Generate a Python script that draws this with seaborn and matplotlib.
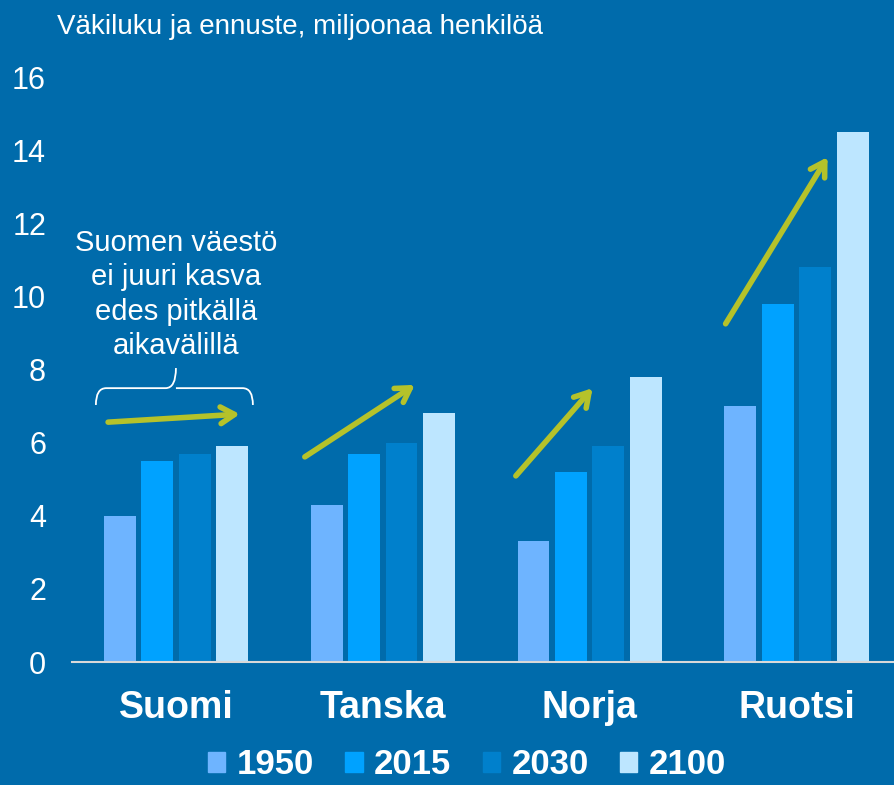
import matplotlib.pyplot as plt
import matplotlib.patches as mpatches
from matplotlib.path import Path
import pandas as pd
import seaborn as sns

# Data (millions of people)
countries = ["Suomi", "Tanska", "Norja", "Ruotsi"]
years = ["1950", "2015", "2030", "2100"]
pop_1950 = [4.0, 4.3, 3.3, 7.0]
pop_2015 = [5.5, 5.7, 5.2, 9.8]
pop_2030 = [5.7, 6.0, 5.9, 10.8]
pop_2100 = [5.9, 6.8, 7.8, 14.5]
yticks = [0, 2, 4, 6, 8, 10, 12, 14, 16]

bg = "#006BAB"
colors = ["#6EB4FF", "#00A2FF", "#0080CC", "#BDE6FF"]
arrow_col = "#B5C22A"

df = pd.DataFrame({"maa": countries, "1950": pop_1950, "2015": pop_2015,
                   "2030": pop_2030, "2100": pop_2100})
df = df.melt(id_vars="maa", var_name="vuosi", value_name="vakiluku")

sns.set_style("white")
plt.rcParams["font.family"] = ["Liberation Sans", "DejaVu Sans"]

fig = plt.figure(figsize=(8.94, 7.85), dpi=100, facecolor=bg)
ax = fig.add_axes([72.5 / 894, 123 / 785, 827.5 / 894, 585 / 785])
ax.set_facecolor(bg)

sns.barplot(data=df, x="maa", y="vakiluku", hue="vuosi", hue_order=years,
            palette=colors, saturation=1, width=0.725, gap=0.15,
            linewidth=0, ax=ax)

ax.set_ylim(0, 16)
ax.set_xlim(-0.5, 3.5)
ax.set_yticks(yticks)
ax.set_xlabel("")
ax.set_ylabel("")
ax.tick_params(axis="y", length=0, pad=19, labelsize=22, labelcolor="white")
ax.tick_params(axis="x", length=0, pad=20, labelsize=27, labelcolor="white")
for lab in ax.get_xticklabels():
    lab.set_fontweight("bold")
for s in ["top", "right", "left"]:
    ax.spines[s].set_visible(False)
ax.spines["bottom"].set_color("#D9D9D9")
ax.spines["bottom"].set_linewidth(1.5)

# Title
fig.text(57 / 894, 1 - 27 / 785, "Väkiluku ja ennuste, miljoonaa henkilöä",
         color="white", fontsize=20, va="center", ha="left")

# Trend arrows
arrows = [((-0.328, 6.56), (0.309, 6.78)),
          ((0.623, 5.61), (1.155, 7.58)),
          ((1.643, 5.09), (2.014, 7.49)),
          ((2.657, 9.25), (3.150, 13.81))]
for start, end in arrows:
    ax.annotate("", xy=end, xytext=start,
                arrowprops=dict(arrowstyle="->,head_length=1.0,head_width=0.6",
                                color=arrow_col, lw=4, capstyle="round",
                                joinstyle="round", shrinkA=0, shrinkB=0))

# Comment text and brace for Suomi
ax.text(0.0, 10.05, "Suomen väestö\nei juuri kasva\nedes pitkällä\naikavälillä",
        color="white", fontsize=21, ha="center", va="center", linespacing=1.3)
xl, xr, yb, ym, yt = -0.387, 0.372, 7.03, 7.49, 8.04
dx = 0.05
verts = [(xl, yb), (xl, ym), (xl + dx, ym),
         (-dx, ym), (0, ym), (0, yt),
         (0, ym), (dx, ym),
         (xr - dx, ym), (xr, ym), (xr, yb)]
codes = [Path.MOVETO, Path.CURVE3, Path.CURVE3,
         Path.LINETO, Path.CURVE3, Path.CURVE3,
         Path.MOVETO, Path.LINETO,
         Path.LINETO, Path.CURVE3, Path.CURVE3]
ax.add_patch(mpatches.PathPatch(Path(verts, codes), fill=False,
                                edgecolor="white", lw=1.3))

# Legend
ax.get_legend().remove()
handles = [mpatches.Patch(color=c) for c in colors]
leg = fig.legend(handles, years, loc="center", bbox_to_anchor=(467 / 894, 20 / 785),
                 ncol=4, frameon=False, handlelength=0.5, handleheight=0.5,
                 handletextpad=0.33, columnspacing=0.9, borderpad=0.1,
                 prop={"size": 25, "weight": "bold"})
for t in leg.get_texts():
    t.set_color("white")

fig.savefig("out.png", dpi=100, facecolor=bg)
